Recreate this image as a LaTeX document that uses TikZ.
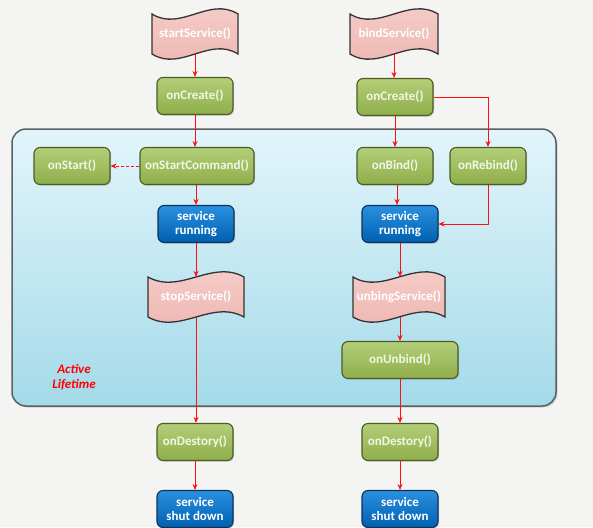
\documentclass[tikz,border=0pt]{standalone}
\usepackage{fontspec}
\setmainfont{Carlito}
\usetikzlibrary{calc,shadows,arrows.meta}

\definecolor{pagegray}{HTML}{F4F4F2}
\definecolor{lifetop}{HTML}{E2F5FB}
\definecolor{lifebot}{HTML}{A4DAE9}
\definecolor{lifeedge}{HTML}{5A6166}
\definecolor{greentop}{HTML}{B4CE78}
\definecolor{greenbot}{HTML}{8EAE4A}
\definecolor{greenedge}{HTML}{4A5C26}
\definecolor{greentext}{HTML}{F2F6E8}
\definecolor{bluetop}{HTML}{2A90E0}
\definecolor{bluebot}{HTML}{0060B0}
\definecolor{blueedge}{HTML}{10325A}
\definecolor{pinktop}{HTML}{F6CFCB}
\definecolor{pinkbot}{HTML}{EDB5B0}
\definecolor{pinkedge}{HTML}{333333}
\definecolor{linkred}{HTML}{FF1010}

\tikzset{
  base/.style={rounded corners=6pt, line width=1.1pt, minimum height=37pt, align=center,
    font=\fontsize{13}{14}\selectfont\bfseries,
    drop shadow={opacity=0.35, shadow xshift=1.2pt, shadow yshift=-1.2pt}},
  greenbox/.style={base, draw=greenedge, top color=greentop, bottom color=greenbot,
    text=greentext, minimum width=76pt},
  bluebox/.style={base, draw=blueedge, top color=bluetop, bottom color=bluebot,
    text=white, minimum width=76pt},
  flagline/.style={draw=pinkedge, line width=1.3pt, top color=pinktop, bottom color=pinkbot},
  flagtext/.style={minimum height=40pt, text=white, font=\fontsize{13}{14}\selectfont\bfseries},
  link/.style={draw=linkred, line width=0.8pt, -{Stealth[length=6pt,width=5pt]}},
}

% wavy flag: name, centre, width, text
\newcommand{\flagnode}[4]{%
  \draw[flagline] ($(#2)+(-#3/2,-20)$) .. controls ($(#2)+(-#3/6,-2)$) and ($(#2)+(#3/6,-38)$) .. ($(#2)+(#3/2,-20)$)
    -- ($(#2)+(#3/2,20)$) .. controls ($(#2)+(#3/6,2)$) and ($(#2)+(-#3/6,38)$) .. ($(#2)+(-#3/2,20)$) -- cycle;
  \node[flagtext, minimum width=#3] (#1) at (#2) {#4};}

\begin{document}
\begin{tikzpicture}[x=1pt,y=-1pt]
	\fill[pagegray] (0,0) rectangle (593,527);
	\useasboundingbox (0,0) rectangle (593,527);

	% active lifetime area
	\draw[draw=lifeedge, line width=1.5pt, rounded corners=14pt, top color=lifetop, bottom color=lifebot,
		drop shadow={opacity=0.3, shadow xshift=1.5pt, shadow yshift=-1.5pt}] (12,129) rectangle (556,406);
	\node[text=red, font=\fontsize{13}{15}\selectfont\bfseries\itshape, align=center] (life) at (74,377) {Active\\Lifetime};

	% started service
	\flagnode{start}{195,34}{86}{startService()}
	\node[greenbox] (create1) at (195,96) {onCreate()};
	\node[greenbox] (onstart) at (72,166) {onStart()};
	\node[greenbox, minimum width=114pt] (command) at (197,166) {onStartCommand()};
	\node[bluebox] (run1) at (196,224) {service\\running};
	\flagnode{stop}{196,297}{96}{stopService()}
	\node[greenbox] (destroy1) at (195,442) {onDestory()};
	\node[bluebox] (down1) at (195,509) {service\\shut down};

	% bound service
	\flagnode{bind}{394,34}{88}{bindService()}
	\node[greenbox] (create2) at (395,97) {onCreate()};
	\node[greenbox] (onbind) at (395,166) {onBind()};
	\node[greenbox] (rebind) at (488,166) {onRebind()};
	\node[bluebox] (run2) at (400,224) {service\\running};
	\flagnode{unbind}{399,297}{92}{unbingService()}
	\node[greenbox, minimum width=116pt] (unbound) at (400,360) {onUnbind()};
	\node[greenbox] (destroy2) at (400,442) {onDestory()};
	\node[bluebox] (down2) at (400,509) {service\\shut down};

	\draw[link] (start) -- (create1);
	\draw[link] (create1) -- (create1 |- command.north);
	\draw[link, densely dashed] (command) -- (onstart);
	\draw[link] (command.south -| run1) -- (run1);
	\draw[link] (run1) -- (stop);
	\draw[link] (stop) -- (stop |- destroy1.north);
	\draw[link] (destroy1) -- (down1);

	\draw[link] (bind) -- (bind |- create2.north);
	\draw[link] (create2) -- (onbind);
	\draw[link] (create2.east) -| (rebind);
	\draw[link] (onbind.south) ++(2,0) -- ($(run2.north)+(-3,0)$);
	\draw[link] (rebind.south) |- (run2.east);
	\draw[link] (run2) -- (run2 |- unbind.north);
	\draw[link] (unbind.south -| unbound) -- (unbound);
	\draw[link] (unbound) -- (destroy2);
	\draw[link] (destroy2) -- (down2);
\end{tikzpicture}
\end{document}
